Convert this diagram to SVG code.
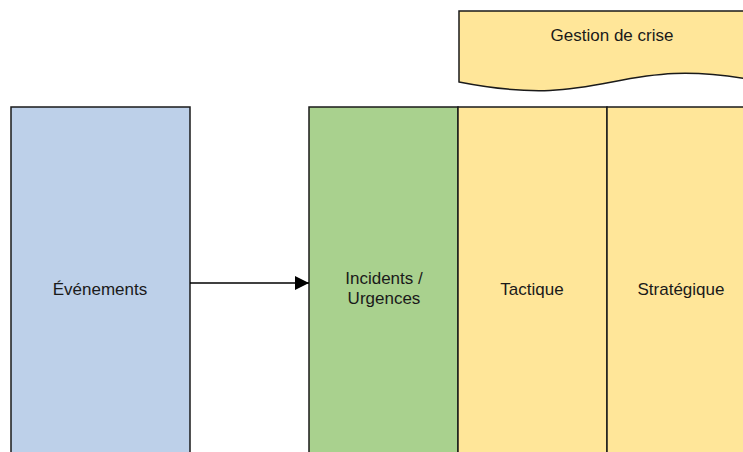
<svg xmlns="http://www.w3.org/2000/svg" width="743" height="452" viewBox="0 0 743 452">
<style>
.box{stroke:#1a1a1a;stroke-width:1.5}
.t{font-family:"Liberation Sans",Arial,sans-serif;font-size:17px;fill:#1a1a1a;text-anchor:middle}
</style>
<defs>
<marker id="ah" markerWidth="14" markerHeight="14" refX="14" refY="7" orient="auto" markerUnits="userSpaceOnUse">
<path d="M0,0 L14,7 L0,14 Z" fill="#000"/>
</marker>
</defs>
<rect width="743" height="452" fill="#fff"/>
<g id="evenements">
<rect class="box" x="11" y="107" width="179" height="360" fill="#BDD0E9"/>
<text class="t" x="100" y="295">Événements</text>
</g>
<g id="incidents">
<rect class="box" x="309" y="107" width="149" height="360" fill="#A9D18E"/>
<text class="t" x="384" y="284">Incidents /</text>
<text class="t" x="384" y="304">Urgences</text>
</g>
<g id="tactique">
<rect class="box" x="458" y="107" width="149" height="360" fill="#FFE699"/>
<text class="t" x="532" y="295">Tactique</text>
</g>
<g id="strategique">
<rect class="box" x="607" y="107" width="149" height="360" fill="#FFE699"/>
<text class="t" x="681" y="295">Stratégique</text>
</g>
<g id="gestion">
<path class="box" d="M459,11 H765 V82 C612,52 612,112 459,82 Z" fill="#FFE699"/>
<text class="t" x="612" y="41">Gestion de crise</text>
</g>
<g id="connectors">
<line x1="190" y1="283" x2="309" y2="283" stroke="#000" stroke-width="1.3" marker-end="url(#ah)"/>
</g>
</svg>
